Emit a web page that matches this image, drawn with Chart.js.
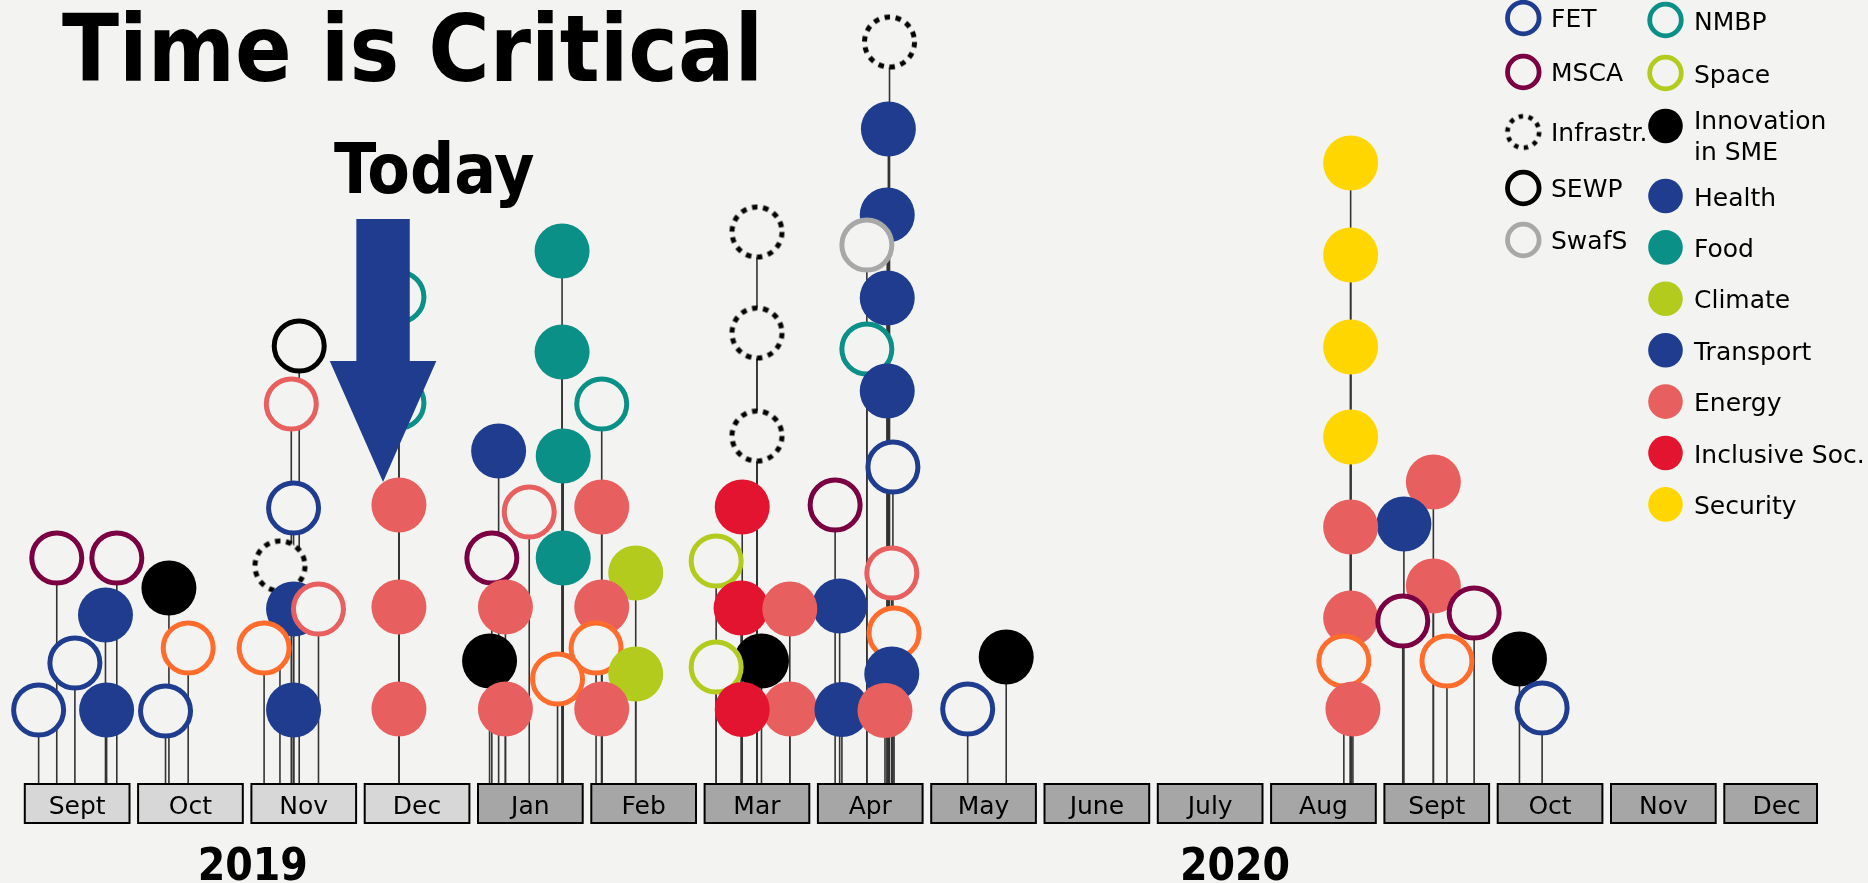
<!DOCTYPE html>
<html>
<head>
<meta charset="utf-8">
<title>Time is Critical</title>
<script src="https://cdn.jsdelivr.net/npm/chart.js@4.4.1/dist/chart.umd.min.js"></script>
<style>
  html, body { margin: 0; padding: 0; background: #f3f3f1; }
  canvas { display: block; }
</style>
</head>
<body>
<canvas id="timeline" width="1868" height="883"></canvas>
<script>
// x = months since 1 Sept 2019, y = height of the call above the month bar
const months = ['Sept', 'Oct', 'Nov', 'Dec', 'Jan', 'Feb', 'Mar', 'Apr', 'May', 'June', 'July', 'Aug', 'Sept', 'Oct', 'Nov', 'Dec'];
const monthYear = [2019, 2019, 2019, 2019, 2020, 2020, 2020, 2020, 2020, 2020, 2020, 2020, 2020, 2020, 2020, 2020];
const years = ['2019', '2020'];
const yearTicks = [2.05, 10.72];
const todayAt = 3.2;

const FET = [[0.16, 7.3], [0.48, 12.0], [1.28, 7.2], [2.41, 27.5], [7.70, 31.6], [8.36, 7.4], [13.43, 7.5]];
const MSCA = [[0.32, 22.5], [0.85, 22.5], [4.16, 22.5], [7.19, 27.8], [12.20, 16.2], [12.83, 17.0]];
const Infrastr = [[2.29, 21.7], [6.50, 55.1], [6.50, 45.0], [6.50, 34.7], [7.67, 74.1]];
const SEWP = [[2.46, 43.7]];
const SwafS = [[7.47, 53.8]];
const NMBP = [[3.34, 48.6], [3.34, 38.0], [5.13, 37.9], [7.47, 43.4]];
const Space = [[6.14, 22.2], [6.14, 11.6]];
const Innovation = [[1.31, 19.5], [4.14, 12.2], [6.54, 12.2], [8.70, 12.6], [13.23, 12.4]];
const Health = [[4.22, 33.2], [7.66, 65.4], [7.65, 56.8], [7.65, 48.5], [7.65, 39.2], [12.21, 25.9]];
const Food = [[4.78, 53.2], [4.78, 43.1], [4.79, 32.7], [4.79, 22.5]];
const Climate = [[5.43, 21.0], [5.43, 10.9]];
const Transport = [[0.75, 16.8], [0.76, 7.3], [2.41, 17.4], [2.41, 7.3], [7.23, 17.7], [7.25, 7.35], [7.69, 10.9]];
const Energy = [[3.34, 27.8], [3.34, 17.6], [3.34, 7.4], [4.28, 17.6], [4.28, 7.4], [5.13, 27.6], [5.13, 17.6], [5.13, 7.4],
  [6.79, 17.4], [6.79, 7.4], [7.63, 7.25], [11.74, 25.6], [11.74, 16.5], [11.76, 7.4], [12.47, 30.1], [12.47, 19.7]];
const InclusiveSoc = [[6.37, 27.6], [6.36, 17.5], [6.37, 7.35]];
const Security = [[11.74, 62.0], [11.74, 52.8], [11.74, 43.6], [11.74, 34.6]];
const EnergyOpen = [[2.39, 37.9], [2.63, 17.4], [4.49, 27.1], [7.69, 21.0]];
const OtherOpen = [[1.48, 13.5], [2.15, 13.5], [4.74, 10.4], [5.08, 13.5], [7.71, 15.0], [11.68, 12.2], [12.59, 12.2]];

const legendLeft = ['FET', 'MSCA', 'Infrastr.', 'SEWP', 'SwafS'];
const legendRight = ['NMBP', 'Space', 'Innovation in SME', 'Health', 'Food', 'Climate', 'Transport', 'Energy', 'Inclusive Soc.', 'Security'];

const BG = '#f3f3f1';
const BLUE = '#1f3c8e';

const series = {
  'FET': FET, 'MSCA': MSCA, 'Infrastr.': Infrastr, 'SEWP': SEWP, 'SwafS': SwafS,
  'NMBP': NMBP, 'Space': Space, 'Innovation in SME': Innovation, 'Health': Health,
  'Food': Food, 'Climate': Climate, 'Transport': Transport, 'Energy': Energy,
  'Inclusive Soc.': InclusiveSoc, 'Security': Security,
  'Energy (open)': EnergyOpen, 'Other (open)': OtherOpen
};

const look = {
  'FET': { color: BLUE, open: true },
  'MSCA': { color: '#7a0042', open: true },
  'Infrastr.': { color: '#000', open: true, dotted: true },
  'SEWP': { color: '#000', open: true },
  'SwafS': { color: '#a8a8a8', open: true },
  'NMBP': { color: '#0b9087', open: true },
  'Space': { color: '#b2cb1c', open: true },
  'Innovation in SME': { color: '#000' },
  'Health': { color: BLUE },
  'Food': { color: '#0b9087' },
  'Climate': { color: '#b2cb1c' },
  'Transport': { color: BLUE },
  'Energy': { color: '#e85f60' },
  'Inclusive Soc.': { color: '#e31430' },
  'Security': { color: '#ffd600' },
  'Energy (open)': { color: '#e85f60', open: true },
  'Other (open)': { color: '#ff6c2c', open: true }
};

// one list of calls, upper ones drawn first so lower ones sit on top
const points = [];
Object.keys(series).forEach(name => {
  series[name].forEach(([x, y]) => points.push({ x: x, y: y, name: name }));
});
points.sort((a, b) => b.y - a.y);

function dottedRing(r, w, dash) {
  const c = document.createElement('canvas');
  const size = Math.ceil(2 * r + w + 2);
  c.width = c.height = size;
  const g = c.getContext('2d');
  g.beginPath();
  g.arc(size / 2, size / 2, r, 0, Math.PI * 2);
  g.fillStyle = BG;
  g.fill();
  g.setLineDash(dash);
  g.lineWidth = w;
  g.strokeStyle = '#000';
  g.stroke();
  return c;
}
const dottedBig = dottedRing(25, 5, [5.5, 5.7]);
const dottedSmall = dottedRing(15.8, 4.6, [4.4, 5.5]);

const lk = ctx => look[ctx.raw ? ctx.raw.name : 'FET'];

const monthBars = {
  id: 'monthBars',
  beforeDraw(chart) {
    const { ctx } = chart;
    const x = chart.scales.x;
    ctx.save();
    ctx.lineWidth = 2;
    ctx.strokeStyle = '#000';
    months.forEach((m, i) => {
      const l = x.getPixelForValue(i) + 4.3;
      const r = Math.min(x.getPixelForValue(i + 1) - 4.3, chart.width - 51);
      ctx.fillStyle = monthYear[i] === 2019 ? '#d7d7d7' : '#a6a6a6';
      ctx.fillRect(l, x.top + 1, r - l, x.bottom - x.top - 2);
      ctx.strokeRect(l, x.top + 1, r - l, x.bottom - x.top - 2);
    });
    ctx.restore();
  }
};

const stems = {
  id: 'stems',
  beforeDatasetsDraw(chart) {
    const { ctx } = chart;
    const base = chart.scales.y.getPixelForValue(0);
    ctx.save();
    ctx.strokeStyle = '#333';
    ctx.lineWidth = 1.6;
    chart.getDatasetMeta(0).data.forEach(pt => {
      ctx.beginPath();
      ctx.moveTo(pt.x, pt.y);
      ctx.lineTo(pt.x, base);
      ctx.stroke();
    });
    ctx.restore();
  }
};

function legendMark(ctx, name, cx, cy) {
  const s = look[name];
  if (s.dotted) {
    ctx.drawImage(dottedSmall, cx - dottedSmall.width / 2, cy - dottedSmall.height / 2);
    return;
  }
  ctx.beginPath();
  if (s.open) {
    ctx.arc(cx, cy, 15.8, 0, Math.PI * 2);
    ctx.fillStyle = BG;
    ctx.fill();
    ctx.lineWidth = 4.8;
    ctx.strokeStyle = s.color;
    ctx.stroke();
  } else {
    ctx.arc(cx, cy, 17.3, 0, Math.PI * 2);
    ctx.fillStyle = s.color;
    ctx.fill();
  }
}

const overlay = {
  id: 'overlay',
  afterDraw(chart) {
    const { ctx } = chart;
    const x = chart.scales.x, y = chart.scales.y;
    ctx.save();

    // title
    ctx.fillStyle = '#000';
    ctx.textBaseline = 'alphabetic';
    ctx.textAlign = 'left';
    ctx.font = 'bold 93px "DejaVu Sans Condensed", "DejaVu Sans"';
    ctx.fillText('Time is Critical', 62, 81);

    // today arrow
    const cx = x.getPixelForValue(todayAt);
    const top = y.getPixelForValue(56.4), neck = y.getPixelForValue(42.2), tip = y.getPixelForValue(30.1);
    ctx.fillStyle = BLUE;
    ctx.beginPath();
    ctx.moveTo(cx - 26.7, top);
    ctx.lineTo(cx + 26.7, top);
    ctx.lineTo(cx + 26.7, neck);
    ctx.lineTo(cx + 53.3, neck);
    ctx.lineTo(cx, tip);
    ctx.lineTo(cx - 53.3, neck);
    ctx.lineTo(cx - 26.7, neck);
    ctx.closePath();
    ctx.fill();
    ctx.fillStyle = '#000';
    ctx.font = 'bold 69px "DejaVu Sans Condensed", "DejaVu Sans"';
    ctx.fillText('Today', cx - 49, y.getPixelForValue(59.0));

    // legend
    ctx.font = '25px "DejaVu Sans"';
    ctx.textBaseline = 'middle';
    const leftRows = [18, 72, 132, 188, 240];
    legendLeft.forEach((name, i) => {
      const cy = leftRows[i];
      legendMark(ctx, name, 1523.3, cy);
      ctx.fillStyle = '#000';
      ctx.fillText(name, 1551, cy + 2);
    });
    legendRight.forEach((name, i) => {
      const cy = i < 3 ? 20 + 53 * i : 196 + 51.4 * (i - 3);
      legendMark(ctx, name, 1665.5, cy);
      ctx.fillStyle = '#000';
      if (ctx.measureText(name).width > 200) {
        const cut = name.indexOf(' ');
        ctx.fillText(name.slice(0, cut), 1694, cy - 4);
        ctx.fillText(name.slice(cut + 1), 1694, cy + 27);
      } else {
        ctx.fillText(name, 1694, cy + 3);
      }
    });
    ctx.restore();
  }
};

const axisOff = { grid: { display: false }, border: { display: false } };

new Chart(document.getElementById('timeline'), {
  type: 'scatter',
  data: {
    datasets: [{
      label: 'Calls',
      data: points,
      clip: false,
      pointStyle: ctx => lk(ctx).dotted ? dottedBig : 'circle',
      pointRadius: ctx => lk(ctx).open ? 25 : 27.5,
      pointBorderWidth: ctx => lk(ctx).open ? 5 : 0,
      pointBackgroundColor: ctx => lk(ctx).open ? BG : lk(ctx).color,
      pointBorderColor: ctx => lk(ctx).color
    }]
  },
  options: {
    responsive: false,
    devicePixelRatio: 1,
    animation: false,
    events: [],
    layout: { autoPadding: false, padding: { left: 20.5, right: 34.7, top: 0, bottom: 0 } },
    plugins: { legend: { display: false }, tooltip: { enabled: false } },
    scales: {
      x: {
        type: 'linear', position: 'bottom', min: 0, max: 16, weight: 0, ...axisOff,
        afterBuildTicks: s => { s.ticks = months.map((m, i) => ({ value: i + 0.5 })); },
        afterFit: s => { s.height = 41; },
        ticks: {
          autoSkip: false, maxRotation: 0, padding: 1, color: '#000',
          font: { family: 'DejaVu Sans', size: 25 },
          callback: (v, i) => months[i]
        }
      },
      years: {
        type: 'linear', axis: 'x', position: 'bottom', min: 0, max: 16, weight: 1, ...axisOff,
        afterBuildTicks: s => { s.ticks = yearTicks.map(v => ({ value: v })); },
        afterFit: s => { s.height = 59; },
        ticks: {
          autoSkip: false, maxRotation: 0, padding: 10, color: '#000',
          font: { family: '"DejaVu Sans Condensed", "DejaVu Sans"', size: 44, weight: 'bold' },
          callback: (v, i) => years[i]
        }
      },
      y: { display: false, min: 0, max: 78.3 }
    }
  },
  plugins: [monthBars, stems, overlay]
});
</script>
</body>
</html>
